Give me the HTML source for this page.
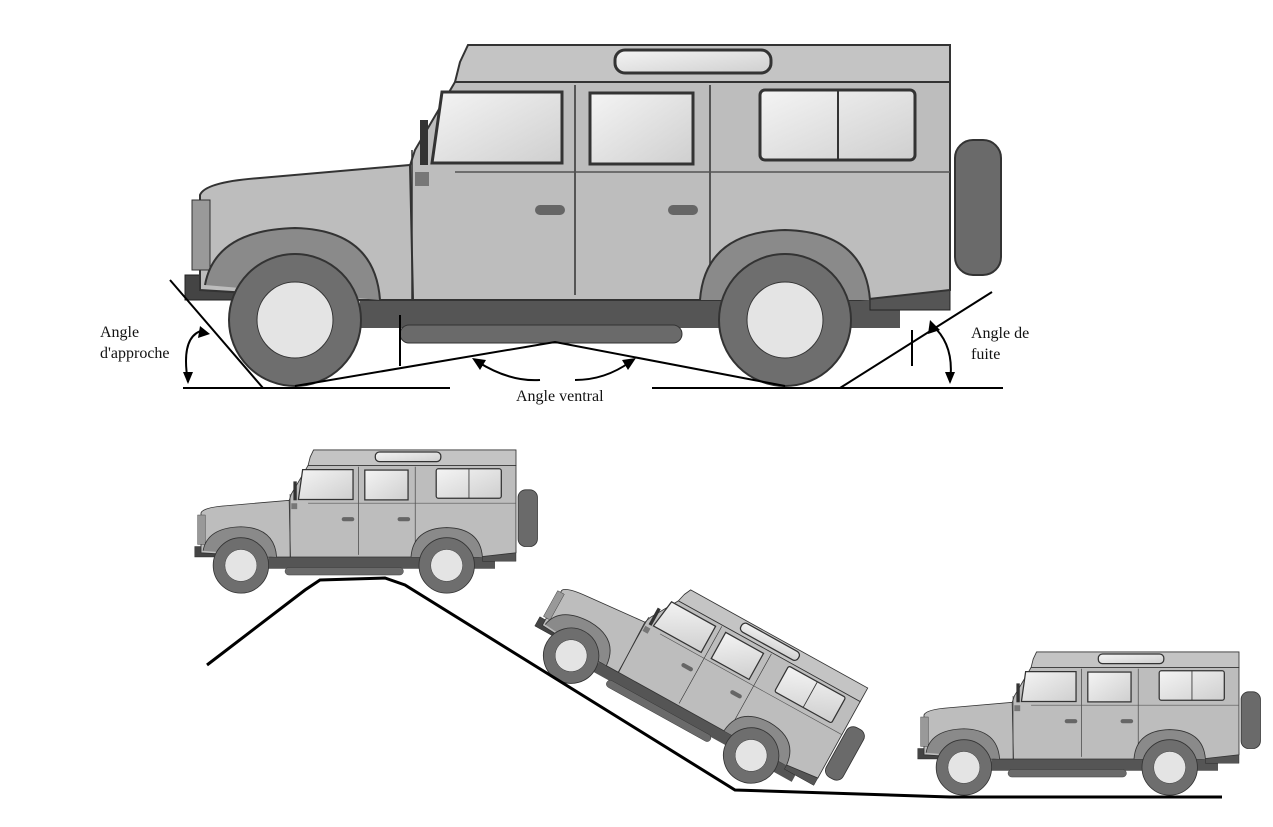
<!DOCTYPE html>
<html><head><meta charset="utf-8"><style>
html,body{margin:0;padding:0;background:#fff;}
svg{display:block;}
text{font-family:"Liberation Serif",serif;font-size:16px;fill:#111;}
</style></head><body>
<svg width="1273" height="827" viewBox="0 0 1273 827" xmlns="http://www.w3.org/2000/svg">
<defs>
<linearGradient id="win" x1="0" y1="0" x2="1" y2="1">
<stop offset="0" stop-color="#f4f4f4"/><stop offset="1" stop-color="#cfcfcf"/>
</linearGradient>
<g id="car">
  <rect x="360" y="298" width="540" height="30" fill="#555"/>
  <rect x="185" y="275" width="60" height="25" fill="#444" stroke="#222"/>
  <rect x="870" y="285" width="80" height="25" fill="#555" stroke="#222"/>
  <rect x="955" y="140" width="46" height="135" rx="18" fill="#6a6a6a" stroke="#333" stroke-width="2"/>
  <polygon points="460,62 468,45 950,45 950,82 455,82" fill="#c4c4c4" stroke="#333" stroke-width="2"/>
  <rect x="615" y="50" width="156" height="23" rx="10" fill="url(#win)" stroke="#333" stroke-width="3"/>
  <polygon points="455,82 950,82 950,290 860,300 380,300 370,290 415,150" fill="#bdbdbd" stroke="#333" stroke-width="2"/>
  <path d="M200,195 Q205,182 260,178 L410,165 L413,300 L360,300 L200,290 Z" fill="#bdbdbd" stroke="#333" stroke-width="2"/>
  <rect x="192" y="200" width="18" height="70" fill="#999" stroke="#333"/>
  <polygon points="442,92 562,92 562,163 432,163" fill="url(#win)" stroke="#333" stroke-width="3"/>
  <rect x="590" y="93" width="103" height="71" fill="url(#win)" stroke="#333" stroke-width="3"/>
  <rect x="760" y="90" width="155" height="70" rx="5" fill="url(#win)" stroke="#333" stroke-width="3"/>
  <line x1="838" y1="90" x2="838" y2="160" stroke="#333" stroke-width="2"/>
  <line x1="575" y1="85" x2="575" y2="295" stroke="#333" stroke-width="1.5"/>
  <line x1="710" y1="85" x2="710" y2="295" stroke="#333" stroke-width="1.5"/>
  <line x1="412" y1="150" x2="412" y2="300" stroke="#333" stroke-width="1.5"/>
  <line x1="455" y1="172" x2="950" y2="172" stroke="#555" stroke-width="1.5"/>
  <rect x="535" y="205" width="30" height="10" rx="5" fill="#666"/>
  <rect x="668" y="205" width="30" height="10" rx="5" fill="#666"/>
  <rect x="415" y="172" width="14" height="14" fill="#777"/>
  <rect x="420" y="120" width="8" height="45" fill="#333"/>
  <path d="M205,285 Q215,230 295,228 Q375,230 380,300" fill="#8a8a8a" stroke="#333" stroke-width="2"/>
  <path d="M700,300 Q705,232 785,230 Q865,232 870,300" fill="#8a8a8a" stroke="#333" stroke-width="2"/>
  <rect x="400" y="325" width="282" height="18" rx="9" fill="#6a6a6a" stroke="#333"/>
  <circle cx="295" cy="320" r="66" fill="#6e6e6e" stroke="#333" stroke-width="2"/>
  <circle cx="295" cy="320" r="38" fill="#e4e4e4" stroke="#333"/>
  <circle cx="785" cy="320" r="66" fill="#6e6e6e" stroke="#333" stroke-width="2"/>
  <circle cx="785" cy="320" r="38" fill="#e4e4e4" stroke="#333"/>
</g>
</defs>

<use href="#car"/>

<g stroke="#000" stroke-width="2" fill="none">
  <line x1="183" y1="388" x2="450" y2="388"/>
  <line x1="652" y1="388" x2="1003" y2="388"/>
  <line x1="170" y1="280" x2="263" y2="388"/>
  <polyline points="295,386 555,342 785,386"/>
  <line x1="840" y1="388" x2="992" y2="292"/>
  <line x1="912" y1="330" x2="912" y2="366"/>
  <line x1="400" y1="315" x2="400" y2="366"/>
  <path d="M188,382 Q180,335 204,330"/>
  <path d="M950,382 Q955,345 932,325"/>
  <path d="M478,362 Q510,382 540,380"/>
  <path d="M575,380 Q605,380 630,362"/>
</g>
<g fill="#000">
  <polygon points="183,372 193,372 188,384"/>
  <polygon points="200,326 210,334 198,338"/>
  <polygon points="945,372 955,372 950,384"/>
  <polygon points="930,320 940,330 928,334"/>
  <polygon points="472,358 486,360 480,370"/>
  <polygon points="636,358 622,360 628,370"/>
</g>
<text x="100" y="337">Angle</text>
<text x="100" y="358">d'approche</text>
<text x="971" y="338">Angle de</text>
<text x="971" y="359">fuite</text>
<text x="516" y="401">Angle ventral</text>

<use href="#car" transform="translate(117,431) scale(0.42)"/>
<use href="#car" transform="translate(698,678) rotate(29) scale(0.42) translate(-585,-220)"/>
<use href="#car" transform="translate(840,633) scale(0.42)"/>

<polyline points="207,665 305,590 320,580 385,578 405,585 735,790 950,797 1222,797" fill="none" stroke="#000" stroke-width="3"/>
</svg>
</body></html>
